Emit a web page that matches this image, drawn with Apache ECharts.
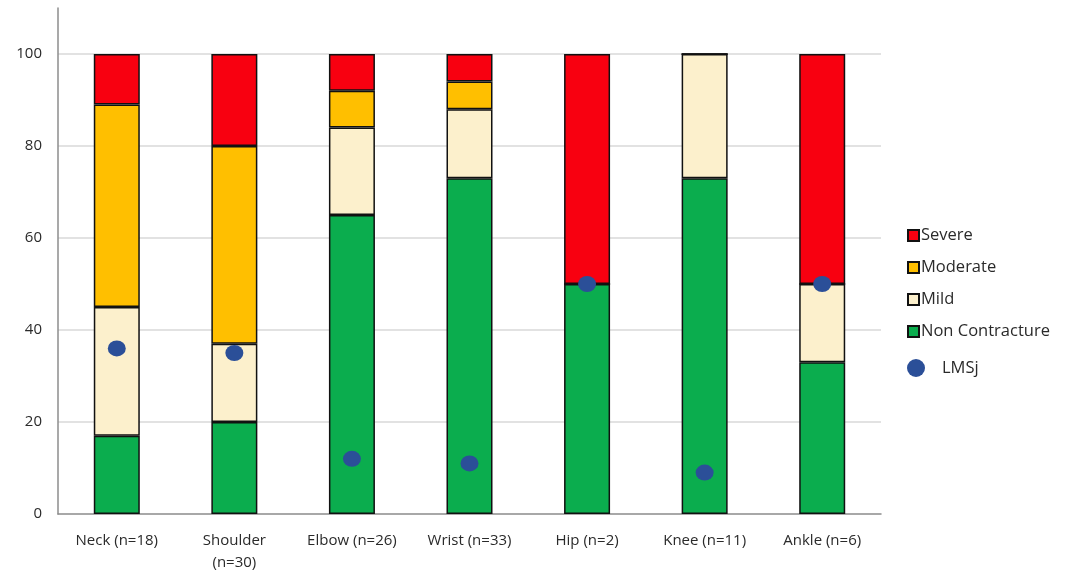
<!DOCTYPE html>
<html>
<head>
<meta charset="utf-8">
<script src="https://cdn.jsdelivr.net/npm/echarts@6/dist/echarts.min.js"></script>
<style>html,body{margin:0;padding:0;background:#fff}#c{width:1066px;height:575px}</style>
</head>
<body>
<div id="c"></div>
<script>
const categories = ['Neck (n=18)', 'Shoulder\n(n=30)', 'Elbow (n=26)', 'Wrist (n=33)', 'Hip (n=2)', 'Knee (n=11)', 'Ankle (n=6)'];
const nonContracture = [17, 20, 65, 73, 50, 73, 33];
const mild = [28, 17, 19, 15, 0, 27, 17];
const moderate = [44, 43, 8, 6, 0, 0, 0];
const severe = [11, 20, 8, 6, 50, 0, 50];
const lmsj = [36, 35, 12, 11, 50, 9, 50];
const yTicks = [20, 40, 60, 80, 100];

const font = '"Open Sans", Lato, sans-serif';
const textColor = '#2a2a2a';
const border = { borderColor: '#111', borderWidth: 1.5 };
function barSeries(name, data, color) {
  return {
    name, type: 'bar', stack: 'total', data, barWidth: 46,
    itemStyle: Object.assign({ color }, border)
  };
}
const chart = echarts.init(document.getElementById('c'));
chart.setOption({
  animation: false,
  textStyle: { fontFamily: font },
  grid: { left: 58, right: 185, top: 8, bottom: 61, containLabel: false },
  legend: [{
    orient: 'vertical', left: 902, top: 222, itemWidth: 11, itemHeight: 11, itemGap: 15,
    data: ['Severe', 'Moderate', 'Mild', 'Non Contracture'],
    textStyle: { fontFamily: font, fontSize: 16.5, color: textColor, padding: [0, 0, 0, -3] },
    icon: 'rect'
  }, {
    orient: 'vertical', left: 902, top: 354, itemWidth: 22, itemHeight: 18,
    data: ['LMSj'],
    textStyle: { fontFamily: font, fontSize: 16.5, color: textColor, padding: [0, 0, 0, 10] }
  }],
  xAxis: {
    type: 'category', data: categories,
    axisLine: { lineStyle: { color: '#8c8c8c', width: 1.5 } },
    axisTick: { show: false },
    axisLabel: { fontFamily: font, fontSize: 15, color: textColor, margin: 16, lineHeight: 22, interval: 0 }
  },
  yAxis: {
    type: 'value', min: 0, max: 110, interval: 20,
    axisLine: { show: true, lineStyle: { color: '#8c8c8c', width: 1.5 } },
    axisTick: { show: false },
    splitLine: { show: false },
    axisLabel: {
      fontFamily: font, fontSize: 15, color: textColor, margin: 16,
      formatter: v => (v > 100 ? '' : String(v))
    }
  },
  series: [
    Object.assign(barSeries('Non Contracture', nonContracture, '#0BAD4E'), {
      markLine: {
        silent: true, symbol: 'none', label: { show: false },
        lineStyle: { color: '#d9d9d9', type: 'solid', width: 1.5 },
        data: yTicks.map(v => ({ yAxis: v })), z: 0
      }
    }),
    barSeries('Mild', mild, '#FCF0CC'),
    barSeries('Moderate', moderate, '#FFBF00'),
    barSeries('Severe', severe, '#F80010'),
    {
      name: 'LMSj', type: 'scatter', data: lmsj, symbol: 'circle', symbolSize: [18, 16],
      itemStyle: { color: '#2B4F98', opacity: 1 }, z: 10
    }
  ]
});
</script>
</body>
</html>
